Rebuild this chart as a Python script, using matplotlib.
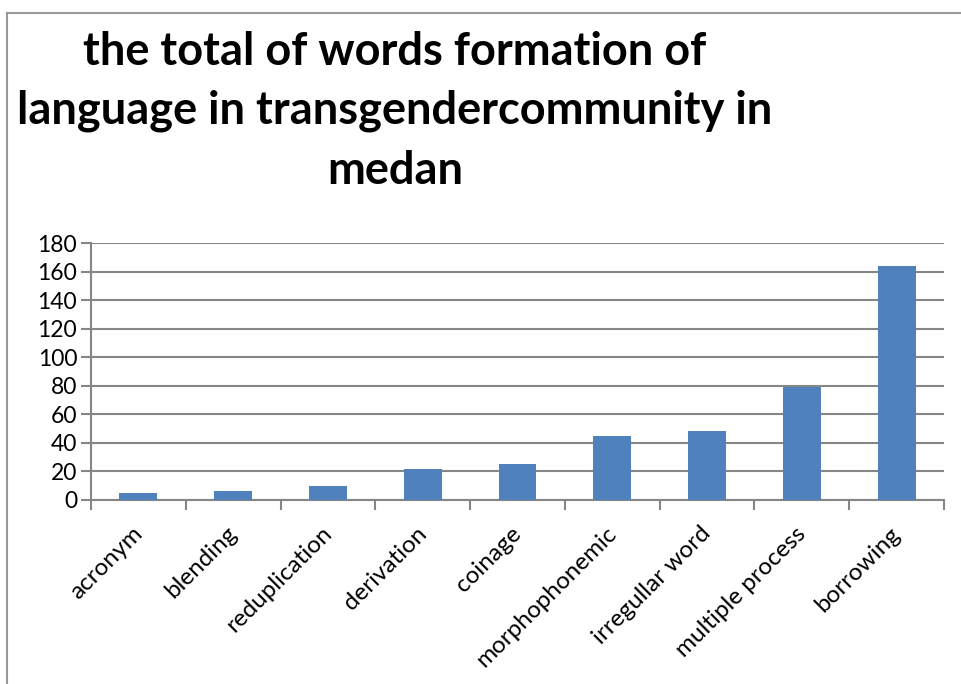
import numpy as np
import matplotlib
matplotlib.use("Agg")
import matplotlib.pyplot as plt
from matplotlib.lines import Line2D

categories = ["acronym", "blending", "reduplication", "derivation", "coinage",
              "morphophonemic", "irregullar word", "multiple process", "borrowing"]
totals = [5, 6, 10, 22, 25, 45, 48, 79, 164]
yticks = [0, 20, 40, 60, 80, 100, 120, 140, 160, 180]
title = "the total of words formation of\nlanguage in transgendercommunity in\nmedan"

plt.rcParams['font.family'] = ['Lato', 'DejaVu Sans']
grey = '#868686'

fig = plt.figure(figsize=(9.61, 6.84), dpi=100)
ax = fig.add_axes([91 / 961, 1 - 500 / 684, (944 - 91) / 961, (500 - 243) / 684])

x = np.arange(len(categories))
ax.bar(x, totals, width=0.4, color='#4F81BD', zorder=3)

ax.set_xlim(-0.5, len(categories) - 0.5)
ax.set_ylim(0, 180)
ax.set_yticks(yticks)
ax.yaxis.grid(True, color=grey, linewidth=1.5, zorder=0)
ax.set_axisbelow(True)

# category labels, slanted, hung just under each category centre
ax.set_xticks([])
for i, name in zip(x, categories):
    ax.annotate(name, xy=(i, 0), xycoords=ax.get_xaxis_transform(),
                xytext=(-5, -16.5), textcoords='offset points',
                rotation=45, rotation_mode='anchor', ha='right', va='top',
                fontsize=17.5)
ax.set_xticks(np.arange(len(categories) + 1) - 0.5, minor=True)
ax.tick_params(axis='x', which='minor', length=7, width=1.5, color=grey)
ax.tick_params(axis='y', length=7, width=1.5, color=grey, labelsize=16.5, pad=3)

for side in ['top', 'right']:
    ax.spines[side].set_visible(False)
for side in ['left', 'bottom']:
    ax.spines[side].set_color(grey)
    ax.spines[side].set_linewidth(1.5)

fig.text(395 / 961, 1 - 31 / 684, title, ha='center', va='top',
         fontsize=32.5, fontweight='bold', linespacing=1.5)

# outer chart frame (partly cropped in the original)
fig.add_artist(Line2D([7 / 961, 7 / 961], [0, 1 - 13 / 684], color='#999999',
                      linewidth=1.5, transform=fig.transFigure))
fig.add_artist(Line2D([7 / 961, 1], [1 - 13 / 684, 1 - 13 / 684], color='#999999',
                      linewidth=1.5, transform=fig.transFigure))

fig.savefig("out.png", dpi=100)
